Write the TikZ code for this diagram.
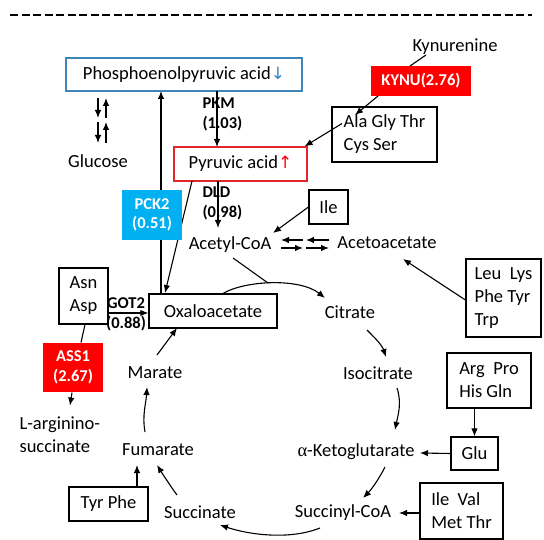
\documentclass[tikz,border=0pt]{standalone}
\usepackage{fontspec}
\setmainfont{Carlito}
\newfontfamily\symf{DejaVu Sans}
\newfontfamily\grk{Liberation Serif}
\usetikzlibrary{arrows.meta,calc}
\definecolor{kred}{HTML}{FF0000}
\definecolor{pyrred}{HTML}{E0262B}
\definecolor{kcyan}{HTML}{00B0F0}
\definecolor{pepblue}{HTML}{3E85B8}
\definecolor{arrblue}{HTML}{2E86C1}
\begin{document}
\begin{tikzpicture}[x=1pt,y=-1pt,
  font=\fontsize{18.5}{23}\selectfont,
  line width=1.1pt,
  arr/.style={-{Latex[length=8pt,width=6.5pt]}},
  box/.style={draw, line width=1.2pt, inner sep=0pt, align=left},
  fillbox/.style={fill=#1, text=white, inner sep=0pt, align=center,
     font=\bfseries\fontsize{16.5}{19.5}\selectfont},
  txt/.style={inner sep=0pt, align=left},
  lbl/.style={inner sep=0pt, align=left, font=\bfseries\fontsize{16.5}{20}\selectfont}]
\useasboundingbox (0,0) rectangle (544,540);

% top dashed rule
\draw[dash pattern=on 8pt off 3.5pt, line width=1.8pt] (10,15) -- (532,15);

% boxes
\node[box, draw=pepblue, minimum width=236pt, minimum height=33pt] (pep) at (184,74.5)
  {Phosphoenolpyruvic acid{\symf\fontsize{17}{20}\selectfont\color{arrblue}↓}};
\node[box, draw=pyrred, minimum width=133pt, minimum height=34pt] (pyr) at (240.5,164)
  {Pyruvic acid{\symf\fontsize{17}{20}\selectfont\color{kred}↑}};
\node[box, minimum width=128pt, minimum height=34pt] (oxa) at (213,311) {Oxaloacetate};
\node[box, minimum width=49pt, minimum height=56pt] (asn) at (83.5,296) {Asn\\Asp};
\node[box, minimum width=105pt, minimum height=55pt] (ala) at (384.5,134.5) {Ala Gly Thr\\Cys Ser};
\node[box, minimum width=39pt, minimum height=34pt] (ile) at (328.5,207) {Ile};
\node[box, minimum width=75pt, minimum height=78pt] (leu) at (503.5,298) {Leu~ Lys\\Phe Tyr\\Trp};
\node[box, minimum width=84pt, minimum height=55pt] (arg) at (489,380.5) {Arg~ Pro\\His Gln};
\node[box, minimum width=47pt, minimum height=33pt] (glu) at (474.5,453.5) {Glu};
\node[box, minimum width=83pt, minimum height=56pt] (iv) at (461.5,511) {Ile~ Val\\Met Thr};
\node[box, minimum width=79pt, minimum height=34pt] (tyr) at (108.5,504) {Tyr Phe};

\node[fillbox=kred, minimum width=100pt, minimum height=30pt] (kynu) at (421,81) {KYNU(2.76)};
\node[fillbox=kred, minimum width=60pt, minimum height=49pt] (ass1) at (73,367.5) {ASS1\\(2.67)};

% text nodes
\node[txt] (kyn) at (455,47) {Kynurenine};
\node[txt] (glc) at (98,161) {Glucose};
\node[txt] (acet) at (230,245) {Acetyl-CoA};
\node[txt] (acac) at (387,243) {Acetoacetate};
\node[txt] (cit) at (350,312) {Citrate};
\node[txt] (iso) at (378,373) {Isocitrate};
\node[txt] (akg) at (356,452) {{\grk α}-Ketoglutarate};
\node[txt] (scoa) at (343,513) {Succinyl-CoA};
\node[txt] (succ) at (200,512) {Succinate};
\node[txt] (fum) at (158,450) {Fumarate};
\node[txt] (mar) at (155,373) {Marate};
\node[txt, anchor=west] (larg) at (19,435) {L-arginino-\\succinate};

% enzyme labels
\node[lbl, anchor=west] (pkm) at (202,114) {PKM\\(1.03)};
\node[lbl, anchor=west] (dld) at (202,203) {DLD\\(0.98)};
\node[lbl, align=center] (got) at (126,314.5) {GOT2\\(0.88)};

% connectors
\draw ($(kyn)+(-29,8)$) -- ($(kynu)+(-11,-15)$);
\draw[arr] ($(kynu)+(-43,15)$) -- ($(ala)+(-29.5,-19.5)$);
\draw[arr] ($(ala)+(-42.5,-11)$) -- ($(pyr.north east)+(-3,0)$);
\draw[arr] ($(pep)+(33,16.5)$) -- ($(pyr)+(-23.5,-17)$);
\draw[arr] ($(pyr)+(-22.5,17)$) -- ($(acet)+(-12,-17)$);
\draw[arr] ($(oxa)+(-52,-17)$) -- ($(pep)+(-23,16.5)$);
\draw[arr] ($(pyr)+(-48.5,17)$) -- ($(oxa)+(-48,-18)$);

% PCK2 box drawn over the vertical line
\node[fillbox=kcyan, minimum width=60pt, minimum height=50pt] (pck2) at (152,215) {PCK2\\(0.51)};

% glucose double arrows
\draw[arr] ($(glc)+(0,-63)$) -- ($(glc)+(0,-43)$);
\draw[arr] ($(glc)+(8,-43)$) -- ($(glc)+(8,-63)$);
\draw[arr] ($(glc)+(0,-39)$) -- ($(glc)+(0,-18)$);
\draw[arr] ($(glc)+(8,-18)$) -- ($(glc)+(8,-39)$);

% acetyl-CoA <-> acetoacetate
\draw[arr] ($(acac)+(-84,-3)$) -- ($(acac)+(-106,-3)$);
\draw[arr] ($(acac)+(-58,-3)$) -- ($(acac)+(-81,-3)$);
\draw[arr] ($(acac)+(-106,5)$) -- ($(acac)+(-84,5)$);
\draw[arr] ($(acac)+(-81,5)$) -- ($(acac)+(-58,5)$);

\draw[arr] (ile.west) -- ($(acet)+(43,-12)$);
\draw[arr] ($(leu.west)+(0,2)$) -- ($(acac)+(16,16)$);

% TCA cycle
\draw ($(acet)+(3,13)$) -- ($(acet)+(38,38)$);
\draw[arr] ($(oxa)+(9,-17)$) .. controls +(23,-14) and +(-25,-20) .. ($(cit)+(-25,-14)$);
\draw[arr] ($(cit)+(17,18)$) .. controls +(8,8) and +(-4,-12) .. ($(iso)+(8,-16)$);
\draw[arr] ($(iso)+(19,15)$) .. controls +(5,15) and +(3,-15) .. ($(akg)+(39,-22)$);
\draw[arr] ($(akg)+(29,15)$) .. controls +(-6,12) and +(8,-8) .. ($(scoa)+(20,-15)$);
\draw[arr] ($(scoa)+(-23,15)$) .. controls +(-30,12) and +(30,10) .. ($(succ)+(20,13)$);
\draw[arr] ($(succ)+(-23,-17)$) .. controls +(-6,-8) and +(5,8) .. ($(fum)+(-1,15)$);
\draw[arr] ($(fum)+(-13,-18)$) .. controls +(-3,-17) and +(-1,17) .. ($(mar)+(-8,14)$);
\draw[arr] ($(mar)+(2,-18)$) -- ($(oxa)+(-36,17)$);

% side inputs
\draw[arr] ($(asn.east)+(0,17)$) -- ($(oxa.west)+(0,2)$);
\draw ($(asn.south)+(1.5,0)$) -- ($(ass1.north)+(8,0)$);
\draw[arr] ($(ass1.south)+(-1,0)$) -- ($(ass1.south)+(-3,13)$);
\draw[arr] ($(tyr.north)+(28.5,0)$) -- ($(fum)+(-21,15)$);
\draw[arr] (arg.south -| glu.north) -- (glu.north);
\draw[arr] (glu.west) -- ($(akg)+(64,1)$);
\draw[arr] ($(iv.west)+(0,2)$) -- ($(scoa)+(56,0)$);
\end{tikzpicture}
\end{document}
